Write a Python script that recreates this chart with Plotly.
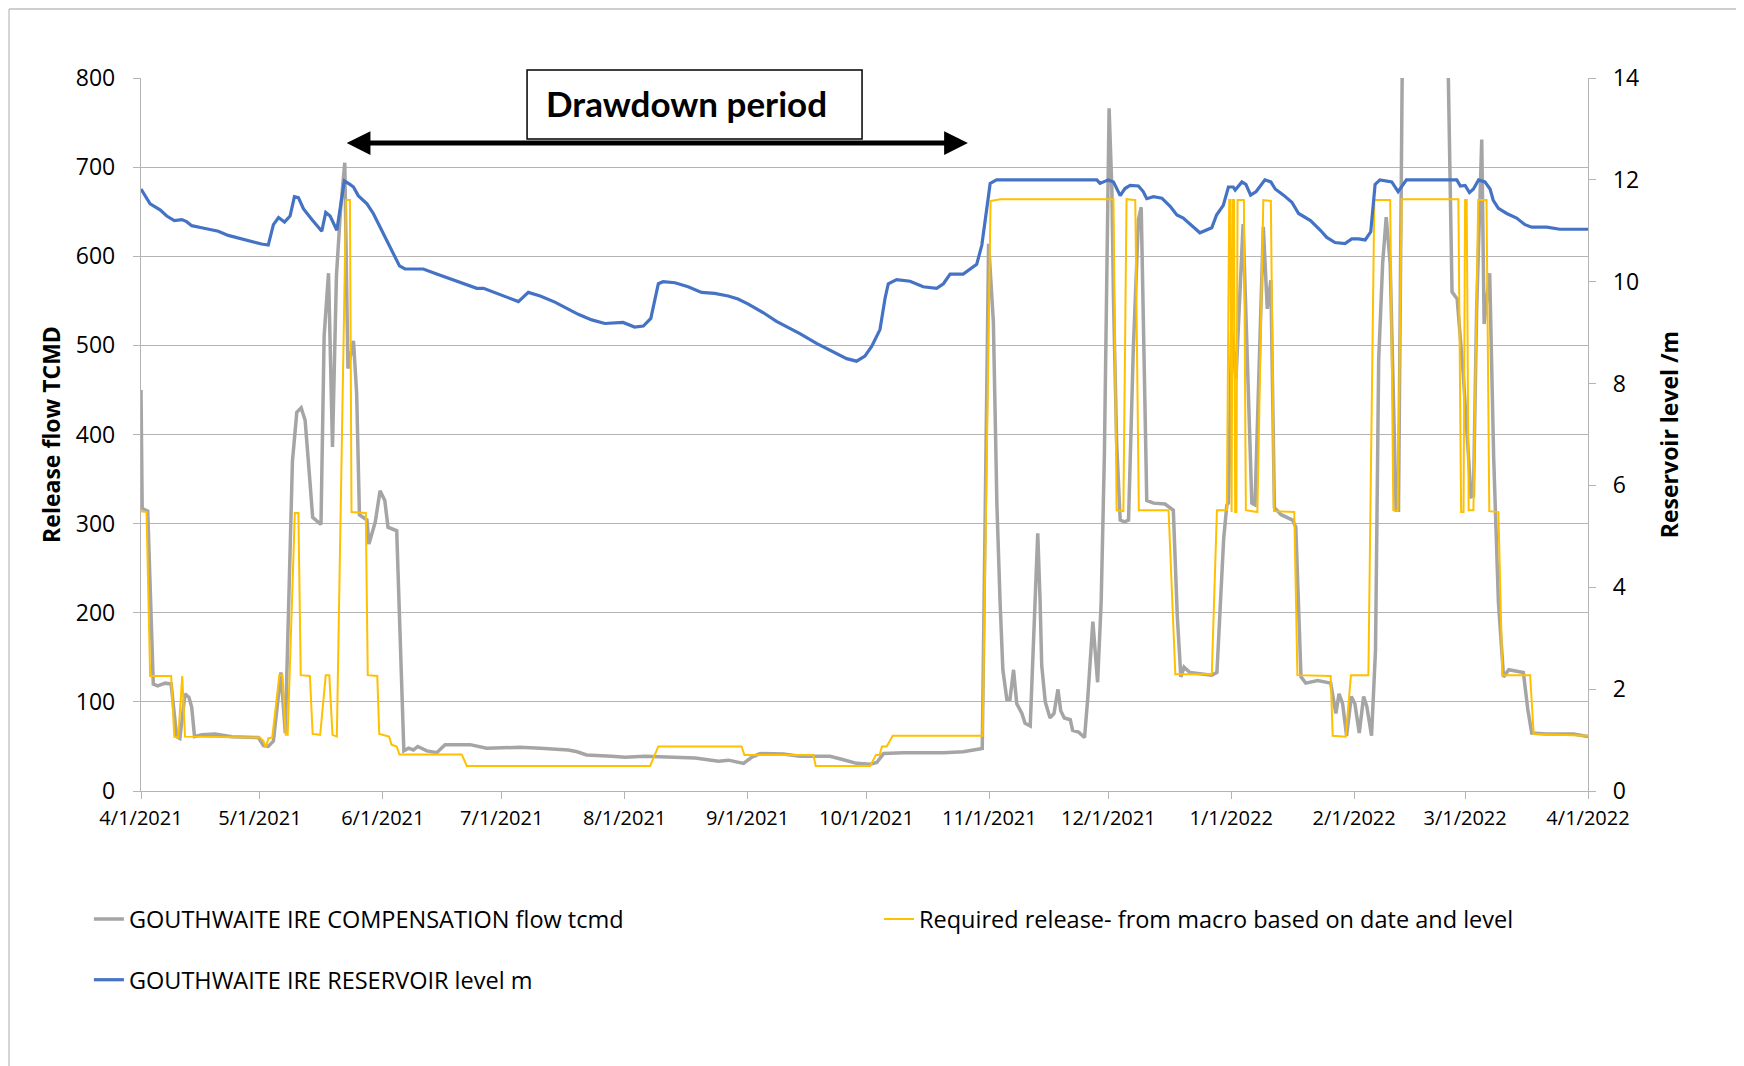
import pandas as pd
import plotly.graph_objects as go

START = pd.Timestamp("2021-04-01")

# days since 1 Apr 2021 / compensation flow (tcmd)
flow_day = [0, 0.3, 1.7, 3.1, 4.2, 6.1, 7.6, 9.0, 9.8, 11.1, 12.1, 12.8, 13.5, 15.3, 18.7, 22.9, 29.6, 30.9, 32.1, 33.4,
            35.3, 36.4, 38.2, 39.3, 40.4, 41.4, 42.6, 43.3, 45.4, 46.2, 47.3, 48.3, 49.3, 50.3, 51.4, 52.2, 53.6, 54.4,
            55.1, 57.0, 57.5, 59.1, 60.3, 61.5, 62.3, 64.5, 66.3, 67.5, 68.7, 69.8, 72.1, 74.6, 76.7, 83.0, 87.2, 95.6,
            100.7, 107.8, 110.0, 112.4, 118.7, 122.1, 127.1, 135.5, 139.8, 145.7, 148.2, 152.0, 154.1, 156.2, 162.0,
            166.2, 173.8, 177.2, 180.5, 183.9, 185.6, 187.3, 192.3, 202.4, 207.4, 212.2, 213.8, 215.0, 215.9, 216.7,
            217.4, 218.4, 219.2, 220.1, 220.9, 222.2, 223.0, 224.3, 225.1, 226.2, 226.8, 227.2, 228.1, 229.3, 230.3,
            231.3, 232.0, 232.9, 234.4, 235.0, 236.5, 238.0, 238.8, 240.1, 241.3, 242.2, 243.0, 243.6, 244.2, 244.9,
            245.3, 246.1, 247.0, 248.1, 249.1, 250.3, 251.6, 252.3, 253.0, 253.7, 255.4, 258.3, 260.4, 261.4, 262.3,
            263.1, 264.6, 268.0, 270.1, 271.4, 272.2, 273.1, 273.9, 274.3, 275.1, 276.2, 278.0, 280.2, 281.0, 283.1,
            284.1, 285.0, 285.9, 287.6, 290.5, 291.3, 292.6, 293.8, 296.8, 300.1, 301.4, 302.2, 303.1, 304.1, 305.3,
            306.2, 307.3, 308.4, 309.2, 310.4, 311.4, 312.2, 313.2, 314.1, 315.1, 315.9, 316.6, 317.2, 318.5, 329.0,
            330.7, 332.0, 333.5, 335.5, 336.1, 336.9, 337.6, 338.2, 338.8, 340.2, 341.2, 342.4, 343.7, 345.0, 348.7,
            349.8, 350.8, 354.6, 361.3, 365.0]
flow_tcmd = [450, 317, 314, 120, 118, 121, 120, 61, 59, 109, 105, 94, 61, 63, 64, 61, 60, 51, 50, 56,
             133, 65, 370, 425, 430, 416, 348, 307, 299, 511, 581, 386, 578, 650, 705, 474, 505, 446,
             310, 304, 277, 302, 337, 326, 296, 292, 45, 48, 46, 50, 45, 43, 52, 52, 48, 49,
             48, 46, 44, 40.5, 39, 38, 39, 38, 37, 33.5, 34.6, 31, 38, 42, 41.6,
             39, 39, 35, 31, 30, 32, 42, 43, 43, 44, 47.6, 614, 527, 321, 212,
             136, 103, 103, 136, 98, 87, 76, 73, 158, 289, 212, 141, 100, 82, 87,
             114, 90, 82, 80, 68, 66, 60, 103, 190, 122, 212, 375, 603, 766, 674,
             554, 391, 304, 302, 304, 495, 641, 655, 511, 326, 323, 322, 315, 196, 128,
             139, 133, 131, 130, 133, 212, 283, 321, 323, 516, 462, 636, 323, 321, 633,
             541, 573, 318, 310, 304, 296, 128, 121, 124, 121, 87, 109, 98, 62, 106,
             98, 65, 106, 95, 62, 158, 484, 592, 644, 592, 457, 315, 315, 1000, 1000,
             560, 552, 470, 330, 331, 538, 636, 731, 524, 581, 375, 212, 128, 136, 133,
             92, 65, 64, 64, 61]

# days since 1 Apr 2021 / required release (tcmd)
req_day = [0, 1.4, 2.3, 7.6, 8.4, 9.4, 10.4, 11.1, 30.0, 30.9, 31.5, 32.1, 33.1, 34.9, 35.7, 36.5, 37.0, 38.8,
           39.7, 40.3, 42.6, 43.3, 45.2, 46.6, 47.5, 48.3, 49.4, 51.7, 52.7, 53.1, 56.7, 57.2, 59.6, 60.1, 62.6,
           63.2, 64.5, 65.2, 80.9, 82.2, 128.4, 130.5, 151.5, 152.2, 169.6, 170.2, 183.9, 185.4, 186.3, 186.9,
           188.1, 189.6, 212.3, 214.3, 216.7, 245.3, 246.1, 247.8, 248.6, 250.8, 251.7, 259.2, 260.9, 270.1, 271.4,
           273.9, 274.5, 274.8, 275.1, 275.4, 275.7, 276.0, 276.3, 276.6, 278.2, 278.7, 281.6, 283.1, 285.0, 285.8,
           290.9, 291.7, 300.1, 300.6, 303.9, 305.2, 309.6, 311.1, 315.1, 315.9, 317.0, 318.0, 332.3, 333.0, 333.6,
           334.0, 334.4, 334.9, 336.1, 337.3, 339.4, 340.1, 342.4, 343.4, 350.4, 351.3, 365.0]
req_tcmd = [314, 313, 129, 129, 61, 60, 129, 61, 60, 56, 49, 59, 60, 130, 130, 63, 63, 312,
            312, 130, 129, 64, 63, 130, 130, 63, 61, 663, 663, 313, 312, 130, 129, 64, 61,
            52, 50, 41, 41, 28, 28, 50, 50, 40.5, 40.5, 28, 28, 40.5, 40.5, 50,
            50, 62, 62, 662, 664, 664, 315, 314, 664, 663, 315, 315, 131, 131, 315,
            315, 663, 663, 313, 663, 663, 313, 313, 663, 663, 315, 313, 663, 662, 314,
            313, 130, 129, 62, 61, 130, 130, 663, 663, 315, 314, 664, 664, 313, 313,
            663, 663, 315, 315, 663, 663, 314, 313, 130, 130, 64, 62]

# days since 1 Apr 2021 / reservoir level (m)
level_day = [0, 2.3, 4.8, 6.5, 8.4, 10.3, 11.5, 12.8, 15.3, 19.5, 22.0, 25.4, 30.4, 32.1, 33.4, 34.7, 36.2, 37.6,
             38.7, 39.7, 41.0, 43.1, 45.6, 46.6, 47.7, 49.4, 51.3, 52.7, 53.6, 54.8, 57.0, 58.6, 61.1, 63.2, 65.2,
             66.6, 71.2, 74.6, 78.0, 81.3, 84.7, 86.4, 89.7, 93.1, 95.2, 97.7, 100.7, 104.4, 107.0, 110.3, 113.7,
             117.0, 121.6, 124.5, 126.7, 128.6, 130.5, 131.7, 134.7, 138.0, 141.4, 144.7, 148.1, 150.6, 153.2, 157.0,
             160.3, 166.2, 170.4, 174.6, 178.0, 180.5, 182.6, 184.3, 186.4, 187.7, 188.5, 190.6, 194.0, 197.3, 200.7,
             202.4, 204.1, 207.4, 209.1, 210.8, 212.1, 213.3, 214.2, 215.8, 241.1, 241.9, 244.0, 245.3, 247.0, 248.2,
             249.5, 251.6, 252.8, 253.7, 255.4, 257.5, 259.6, 261.3, 262.9, 267.1, 270.1, 271.3, 273.0, 274.3, 275.5,
             276.0, 277.7, 278.7, 279.9, 281.3, 283.5, 285.0, 286.1, 288.2, 290.3, 292.0, 295.0, 297.5, 299.1, 301.2,
             303.7, 305.4, 307.1, 308.8, 310.2, 311.3, 312.5, 315.5, 317.1, 319.2, 331.9, 332.8, 334.0, 335.1, 336.1,
             337.4, 339.0, 340.3, 341.1, 342.4, 344.5, 347.0, 349.1, 350.8, 354.6, 357.9, 365.0]
level_m = [11.82, 11.53, 11.41, 11.29, 11.20, 11.22, 11.18, 11.10, 11.06, 10.99, 10.91, 10.84, 10.74, 10.72, 11.12,
           11.26, 11.17, 11.29, 11.67, 11.65, 11.43, 11.22, 10.99, 11.36, 11.29, 11.01, 11.98, 11.91, 11.86, 11.69,
           11.53, 11.34, 10.96, 10.63, 10.31, 10.25, 10.25, 10.15, 10.06, 9.96, 9.87, 9.87, 9.77, 9.66, 9.61, 9.79,
           9.72, 9.60, 9.49, 9.36, 9.25, 9.18, 9.20, 9.11, 9.13, 9.28, 9.96, 10.00, 9.98, 9.90, 9.79, 9.77, 9.72,
           9.66, 9.56, 9.39, 9.22, 8.98, 8.79, 8.63, 8.49, 8.44, 8.54, 8.73, 9.06, 9.68, 9.96, 10.04, 10.01, 9.90,
           9.87, 9.96, 10.15, 10.15, 10.25, 10.34, 10.72, 11.39, 11.93, 12.0, 12.0, 11.93, 12.0, 11.96, 11.69, 11.83,
           11.89, 11.88, 11.77, 11.63, 11.67, 11.64, 11.48, 11.31, 11.25, 10.96, 11.06, 11.31, 11.50, 11.86, 11.86,
           11.80, 11.96, 11.91, 11.70, 11.77, 12.0, 11.96, 11.82, 11.70, 11.56, 11.34, 11.20, 11.01, 10.87, 10.77,
           10.75, 10.84, 10.84, 10.82, 10.98, 11.91, 12.0, 11.96, 11.77, 12.0, 12.0, 11.88, 11.89, 11.75, 11.82,
           12.0, 11.96, 11.82, 11.60, 11.44, 11.34, 11.25, 11.12, 11.07, 11.07, 11.03, 11.03]

month_ticks = ["2021-04-01", "2021-05-01", "2021-06-01", "2021-07-01", "2021-08-01", "2021-09-01", "2021-10-01",
               "2021-11-01", "2021-12-01", "2022-01-01", "2022-02-01", "2022-03-01", "2022-04-01"]
month_labels = ["4/1/2021", "5/1/2021", "6/1/2021", "7/1/2021", "8/1/2021", "9/1/2021", "10/1/2021",
                "11/1/2021", "12/1/2021", "1/1/2022", "2/1/2022", "3/1/2022", "4/1/2022"]

drawdown_start = "2021-05-22 12:00"
drawdown_end = "2021-10-26 14:00"


def to_dates(days):
    return START + pd.to_timedelta(days, unit="D")


FONT = "Open Sans"
GRID = "#B4B4B4"

fig = go.Figure()
fig.add_trace(go.Scatter(x=to_dates(flow_day), y=flow_tcmd, mode="lines",
                         name="GOUTHWAITE IRE COMPENSATION flow tcmd",
                         line=dict(color="#A5A5A5", width=3.5), legend="legend"))
fig.add_trace(go.Scatter(x=to_dates(req_day), y=req_tcmd, mode="lines",
                         name="Required release- from macro based on date and level",
                         line=dict(color="#FFC000", width=2), legend="legend2"))
fig.add_trace(go.Scatter(x=to_dates(level_day), y=level_m, mode="lines",
                         name="GOUTHWAITE IRE RESERVOIR level m",
                         line=dict(color="#4472C4", width=3.2), yaxis="y2", legend="legend3"))

legend_common = dict(orientation="h", font=dict(family=FONT, size=23.5, color="#000000"),
                     bgcolor="rgba(0,0,0,0)", xanchor="left", yanchor="middle")

fig.update_layout(
    width=1736, height=1058,
    margin=dict(l=133, r=156, t=70, b=275),
    paper_bgcolor="white", plot_bgcolor="white",
    font=dict(family=FONT, color="#000000"),
    xaxis=dict(type="date", range=["2021-04-01", "2022-04-01"], tickvals=month_ticks, ticktext=month_labels,
               showgrid=False, showline=True, linecolor=GRID, linewidth=1.3, ticks="outside", ticklen=7,
               tickcolor=GRID, tickfont=dict(family=FONT, size=20, color="#000000"), zeroline=False,
               ticklabelstandoff=2),
    yaxis=dict(range=[0, 800], dtick=100, showgrid=True, gridcolor=GRID, gridwidth=1.3, showline=True,
               linecolor=GRID, linewidth=1.3, ticks="outside", ticklen=7, tickcolor=GRID, zeroline=False,
               tickfont=dict(family=FONT, size=23, color="#000000"), ticklabelstandoff=13,
               title=dict(text="<b>Release flow TCMD</b>", font=dict(family=FONT, size=23, color="#000000"),
                          standoff=8)),
    yaxis2=dict(range=[0, 14], dtick=2, overlaying="y", side="right", showgrid=False, showline=True,
                linecolor=GRID, linewidth=1.3, ticks="outside", ticklen=7, tickcolor=GRID, zeroline=False,
                tickfont=dict(family=FONT, size=23, color="#000000"), ticklabelstandoff=12,
                title=dict(text="<b>Reservoir level /m</b>", font=dict(family=FONT, size=23, color="#000000"),
                           standoff=23)),
    legend=dict(x=-0.036, y=-0.18, **legend_common),
    legend2=dict(x=0.51, y=-0.18, **legend_common),
    legend3=dict(x=-0.036, y=-0.265, **legend_common),
    showlegend=True,
)

# outer chart border (top and left edges visible)
fig.add_shape(type="line", xref="paper", yref="paper", x0=-0.0912, x1=1.2, y0=1.0968, y1=1.0968,
              line=dict(color="#BFBFBF", width=1.3))
fig.add_shape(type="line", xref="paper", yref="paper", x0=-0.0912, x1=-0.0912, y0=1.0968, y1=-0.4,
              line=dict(color="#BFBFBF", width=1.3))

# "Drawdown period" box
fig.add_shape(type="rect", xref="paper", yref="paper", x0=0.2668, x1=0.4983, y0=0.9144, y1=1.0112,
              line=dict(color="black", width=1.5), fillcolor="white", layer="above")
fig.add_annotation(xref="paper", yref="paper", x=0.377, y=0.9645, text="<b>Drawdown period</b>",
                   showarrow=False, font=dict(family="Lato", size=35, color="black"),
                   xanchor="center", yanchor="middle")
# double-headed arrow
fig.add_annotation(x=drawdown_end, y=727, ax=drawdown_start, ay=727, xref="x", yref="y", axref="x", ayref="y",
                   text="", showarrow=True, arrowside="end+start", arrowhead=2, startarrowhead=2,
                   arrowsize=0.95, startarrowsize=0.95, arrowwidth=5, arrowcolor="black", standoff=0,
                   startstandoff=0)

fig.write_html("out.html")
